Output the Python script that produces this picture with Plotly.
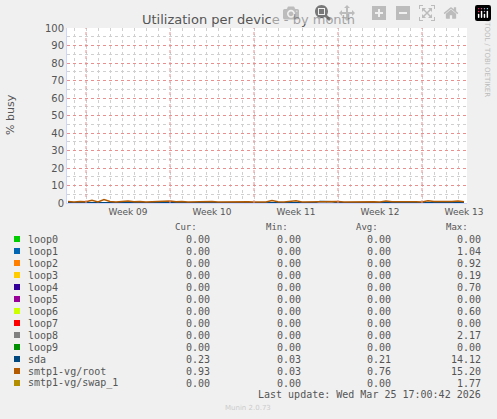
import plotly.graph_objects as go

names = ["loop0","loop1","loop2","loop3","loop4","loop5","loop6","loop7","loop8","loop9","sda","smtp1-vg/root","smtp1-vg/swap_1"]
colors = ["#00cc00","#0066b3","#ff8000","#ffcc00","#330099","#990099","#ccff00","#ff0000","#808080","#008f00","#00487d","#b35a00","#b38f00"]
cur = ["0.00"]*10 + ["0.23","0.93","0.00"]
mn  = ["0.00"]*10 + ["0.03","0.03","0.00"]
avg = ["0.00"]*10 + ["0.21","0.76","0.00"]
mx  = ["0.00","1.04","0.92","0.19","0.70","0.00","0.60","0.00","2.17","0.00","14.12","15.20","1.77"]

# time in days relative to Week 09 label
t = [i*0.5 - 5 for i in range(67)]
root = [0.8,0.6,0.9,0.7,1.5,0.6,2.0,0.9,0.6,0.8,1.2,0.7,0.9,0.6,0.7,0.8,0.6,1.1,0.7,0.9,
        0.6,0.7,0.6,0.6,0.8,0.6,0.7,0.6,0.8,0.6,0.7,0.6,0.7,0.6,1.4,0.7,0.6,0.8,1.3,0.6,
        0.7,0.6,0.8,0.6,0.7,0.9,0.6,0.7,0.6,0.8,0.6,0.7,0.6,1.2,0.7,0.8,0.6,0.9,0.7,0.6,
        1.3,0.8,0.7,0.6,0.8,1.1,0.7]
sda = [0.2,0.2,0.3,0.2,0.3,0.2,0.4,0.2,0.6,0.2,0.3,0.2,0.2,0.2,0.2,0.2,0.2,0.3,0.2,0.2,
       0.2,0.2,0.2,0.2,0.2,0.2,0.2,0.2,0.2,0.2,0.2,0.2,0.2,0.2,0.3,0.2,0.2,0.2,0.2,0.2,
       0.2,0.2,0.8,0.9,0.7,0.2,0.2,0.2,0.2,0.2,0.2,0.2,0.2,0.6,0.2,0.2,0.2,0.2,0.2,0.2,
       0.2,0.2,0.2,0.2,0.2,0.2,0.2]
week_ticks = [0,7,14,21,28]
week_labels = ["Week 09","Week 10","Week 11","Week 12","Week 13"]

fig = go.Figure()
fig.add_trace(go.Scatter(x=t, y=sda, mode="lines", line=dict(color=colors[10], width=1.5)))
fig.add_trace(go.Scatter(x=t, y=root, mode="lines", line=dict(color=colors[11], width=1.5)))

L, R, T, B = 67, 467, 28, 203
W, H = 497, 419
def px(x): return (x-L)/(R-L)
def py(y): return (B-y)/(B-T)

ann = []
def txt(x, y, s, anchor="left", size=10, color="#555", font="DejaVu Sans Mono", angle=0):
    ann.append(dict(x=px(x), y=py(y), xref="paper", yref="paper", text=s, showarrow=False,
                    xanchor=anchor, yanchor="middle", textangle=angle,
                    font=dict(family=font, size=size, color=color)))

txt(248, 19, "Utilization per device - by month", "center", 13, "#555", "DejaVu Sans")
txt(10, 115, "% busy", "center", 11, "#555", "DejaVu Sans", -90)
txt(487, 52, "RRDTOOL / TOBI OETIKER", "center", 7, "#bbb", "DejaVu Sans", 90)
for xx, h in zip([199, 290, 380, 470], ["Cur:", "Min:", "Avg:", "Max:"]):
    txt(xx, 227, h, "right", 9)
shapes = []
for i, n in enumerate(names):
    y = 239 + i*12
    shapes.append(dict(type="rect", xref="paper", yref="paper", x0=px(14), x1=px(20),
                       y0=py(y+3), y1=py(y-3), fillcolor=colors[i], line=dict(width=0)))
    txt(26, y, n, "left", 10)
    for xx, v in zip([212, 303, 393, 483], [cur[i], mn[i], avg[i], mx[i]]):
        txt(xx, y, v, "right", 10)
txt(483, 395, "Last update: Wed Mar 25 17:00:42 2026", "right", 10)
txt(248, 408, "Munin 2.0.73", "center", 7, "#ccc", "DejaVu Sans")

xl = [(L-128)/84*7, (R-128)/84*7]
fig.update_layout(
    width=W, height=H, margin=dict(l=L, r=W-R, t=T, b=H-B),
    paper_bgcolor="#f0f0f0", plot_bgcolor="#ffffff", showlegend=False,
    annotations=ann, shapes=shapes,
    xaxis=dict(range=xl, tickvals=week_ticks, ticktext=week_labels, showgrid=False,
               tickfont=dict(family="DejaVu Sans", size=9, color="#555"), ticks="",
               zeroline=False, showline=True, linecolor="#ccd6ff",
               minor=dict(dtick=1, tick0=0.5, showgrid=True, gridcolor="#d0d0d0", griddash="dot")),
    yaxis=dict(range=[0, 100], dtick=10, gridcolor="#e89090", griddash="dot",
               tickfont=dict(family="DejaVu Sans", size=10, color="#555"), ticks="",
               zeroline=False, showline=True, linecolor="#ccd6ff",
               minor=dict(dtick=5, showgrid=True, gridcolor="#d0d0d0", griddash="dot")),
)
for d in [-3.5, 3.5, 10.5, 17.5, 24.5]:
    fig.add_vline(x=d, line=dict(color="#e89090", width=1, dash="dot"))
fig.write_html("out.html")
with open("out.html", encoding="utf-8") as f:
    html = f.read()
html = html.replace("<head>", "<head><style>body{margin:0;overflow:hidden}</style>", 1)
with open("out.html", "w", encoding="utf-8") as f:
    f.write(html)
